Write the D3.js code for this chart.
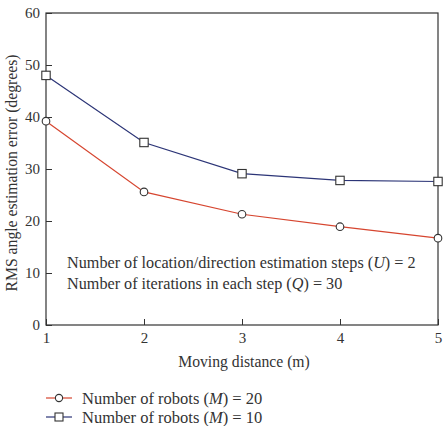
<!doctype html>
<html lang="en">
<head>
<meta charset="utf-8">
<script src="https://cdn.jsdelivr.net/npm/d3@7"></script>
<style>
  body { margin: 0; background: #fff; }
  svg text { font-family: "Liberation Serif", "DejaVu Serif", serif; fill: #333; }
</style>
</head>
<body>
<svg width="447" height="426"></svg>
<script>
// data
var distances = [1, 2, 3, 4, 5];
var robots20 = [39.2, 25.6, 21.3, 18.9, 16.7];
var robots10 = [48.0, 35.1, 29.1, 27.8, 27.6];
var seriesNames = ["Number of robots (M) = 20", "Number of robots (M) = 10"];
var yTicks = [0, 10, 20, 30, 40, 50, 60];

var margin = {left: 46, top: 13, right: 9, bottom: 101};
var svg = d3.select("svg");
var width = 447 - margin.left - margin.right;
var height = 426 - margin.top - margin.bottom;

var g = svg.append("g")
    .attr("transform", "translate(" + margin.left + "," + margin.top + ")");

var x = d3.scaleLinear().domain([1, 5]).range([0, width]);
var y = d3.scaleLinear().domain([0, 60]).range([height, 0]);

// frame
g.append("rect")
    .attr("width", width).attr("height", height)
    .attr("fill", "none").attr("stroke", "#333").attr("stroke-width", 1.2);

var xAxis = g.append("g")
    .attr("transform", "translate(0," + height + ")")
    .call(d3.axisBottom(x).tickValues(distances).tickFormat(d3.format("d")).tickSize(-6).tickPadding(7));
var yAxis = g.append("g")
    .call(d3.axisLeft(y).tickValues(yTicks).tickSize(-6).tickPadding(6));

[xAxis, yAxis].forEach(function(a) {
    a.select(".domain").remove();
    a.selectAll("line").attr("stroke", "#333");
    a.selectAll("text").attr("font-size", 15).attr("fill", "#333")
        .style("font-family", "'Liberation Serif', serif");
});

// axis titles
svg.append("text")
    .attr("x", 244).attr("y", 367)
    .attr("text-anchor", "middle").attr("font-size", 15.7)
    .text("Moving distance (m)");
svg.append("text")
    .attr("transform", "translate(17,173) rotate(-90)")
    .attr("text-anchor", "middle").attr("font-size", 15.7)
    .text("RMS angle estimation error (degrees)");

// annotation
var note = g.append("text").attr("x", 21).attr("font-size", 16.2);
note.append("tspan").attr("x", 21).attr("y", 255)
    .html("Number of location/direction estimation steps (<tspan font-style='italic'>U</tspan>) = 2");
note.append("tspan").attr("x", 21).attr("y", 276)
    .html("Number of iterations in each step (<tspan font-style='italic'>Q</tspan>) = 30");

var line = d3.line()
    .x(function(d, i) { return x(distances[i]); })
    .y(function(d) { return y(d); });

var red = "#d6452f", blue = "#2c3577";

g.append("path").datum(robots20)
    .attr("d", line).attr("fill", "none").attr("stroke", red).attr("stroke-width", 1.2);
g.append("path").datum(robots10)
    .attr("d", line).attr("fill", "none").attr("stroke", blue).attr("stroke-width", 1.2);

g.selectAll(".c").data(robots20).enter().append("circle")
    .attr("cx", function(d, i) { return x(distances[i]); })
    .attr("cy", function(d) { return y(d); })
    .attr("r", 3.8).attr("fill", "#fff").attr("stroke", "#333").attr("stroke-width", 1.1);
g.selectAll(".s").data(robots10).enter().append("rect")
    .attr("x", function(d, i) { return x(distances[i]) - 4.2; })
    .attr("y", function(d) { return y(d) - 4.2; })
    .attr("width", 8.4).attr("height", 8.4)
    .attr("fill", "#fff").attr("stroke", "#333").attr("stroke-width", 1.1);

// legend
var legend = svg.append("g").selectAll("g")
    .data(seriesNames).enter().append("g")
    .attr("transform", function(d, i) { return "translate(46," + (398 + i * 19) + ")"; });

legend.append("line").attr("x1", 0).attr("x2", 26)
    .attr("stroke", function(d, i) { return i ? blue : red; }).attr("stroke-width", 1.2);
legend.each(function(d, i) {
    var s = d3.select(this);
    if (i === 0) {
        s.append("circle").attr("cx", 13).attr("r", 3.6)
            .attr("fill", "#fff").attr("stroke", "#333").attr("stroke-width", 1.1);
    } else {
        s.append("rect").attr("x", 9).attr("y", -4).attr("width", 8, 8).attr("height", 8)
            .attr("fill", "#fff").attr("stroke", "#333").attr("stroke-width", 1.1);
    }
});
legend.append("text").attr("x", 36).attr("dy", "0.35em").attr("font-size", 16.5)
    .html(function(d) { return d.replace("(M)", "(<tspan font-style='italic'>M</tspan>)"); });
</script>
</body>
</html>
